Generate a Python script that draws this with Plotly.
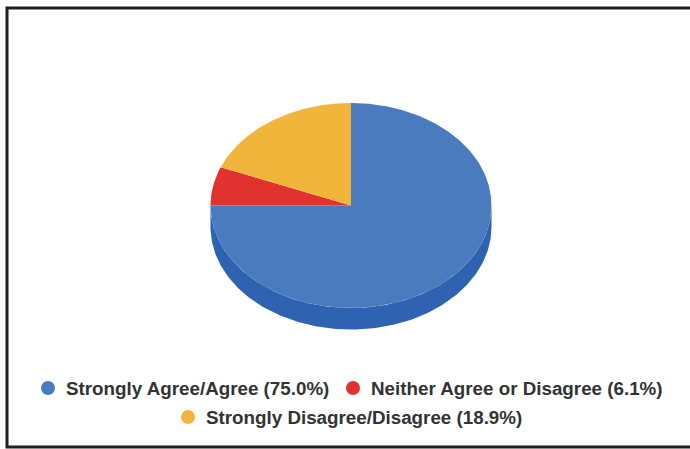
import numpy as np
import plotly.graph_objects as go

categories = ["Strongly Agree/Agree", "Neither Agree or Disagree", "Strongly Disagree/Disagree"]
values = [75.0, 6.1, 18.9]
colors = ["#4b7bbf", "#e1322f", "#f2b53c"]
side_color = "#2f62b0"

W, H = 690, 449
cx, cy, rx, ry, depth = 351, 205.5, 140.5, 102.5, 21.5
legend_pos = [(66, 388), (371, 388), (206, 417)]


def ellipse(angle):
    """Clockwise angle from 12 o'clock, in page pixels."""
    return cx + rx * np.sin(angle), cy - ry * np.cos(angle)


fig = go.Figure()

# side wall: lower half of the rim, from 3 o'clock round to 9 o'clock
a = np.linspace(np.pi / 2, 3 * np.pi / 2, 181)
x, y = ellipse(a)
fig.add_trace(go.Scatter(
    x=np.r_[x, x[::-1]], y=np.r_[y + depth, y[::-1]],
    mode="lines", fill="toself", fillcolor=side_color,
    line=dict(color=side_color, width=0), showlegend=False, hoverinfo="skip"))

# top face
total = sum(values)
start = 0.0
for name, val, col in zip(categories, values, colors):
    sweep = 2 * np.pi * val / total
    a = np.linspace(start, start + sweep, max(int(val * 6), 12))
    x, y = ellipse(a)
    fig.add_trace(go.Scatter(
        x=np.r_[cx, x, cx], y=np.r_[cy, y, cy],
        mode="lines", fill="toself", fillcolor=col,
        line=dict(color=col, width=0), showlegend=False,
        name=name, hoverinfo="name"))
    start += sweep

# legend keys and labels
fig.add_trace(go.Scatter(
    x=[p[0] - 18 for p in legend_pos], y=[p[1] for p in legend_pos],
    mode="markers", marker=dict(color=colors, size=14),
    showlegend=False, hoverinfo="skip"))

annotations = [
    dict(x=p[0], y=p[1], xref="x", yref="y", xanchor="left", yanchor="middle",
         text=f"{name} ({val:.1f}%)", showarrow=False, borderpad=0, borderwidth=0,
         font=dict(family="Liberation Sans", size=18.8, weight=700, color="#333333"))
    for p, name, val in zip(legend_pos, categories, values)
]

fig.update_layout(
    width=W, height=H,
    margin=dict(l=0, r=0, t=0, b=0),
    paper_bgcolor="white", plot_bgcolor="white",
    showlegend=False,
    xaxis=dict(range=[0, W], visible=False, fixedrange=True),
    yaxis=dict(range=[H, 0], visible=False, fixedrange=True),
    annotations=annotations,
    shapes=[dict(type="rect", xref="x", yref="y", x0=7, y0=8, x1=W + 10, y1=447,
                 line=dict(color="#1f1f1f", width=3), layer="below")],
)
fig.write_html("out.html", config=dict(displayModeBar=False),
               post_script="document.body.style.margin='0';document.documentElement.style.overflow='hidden';")
